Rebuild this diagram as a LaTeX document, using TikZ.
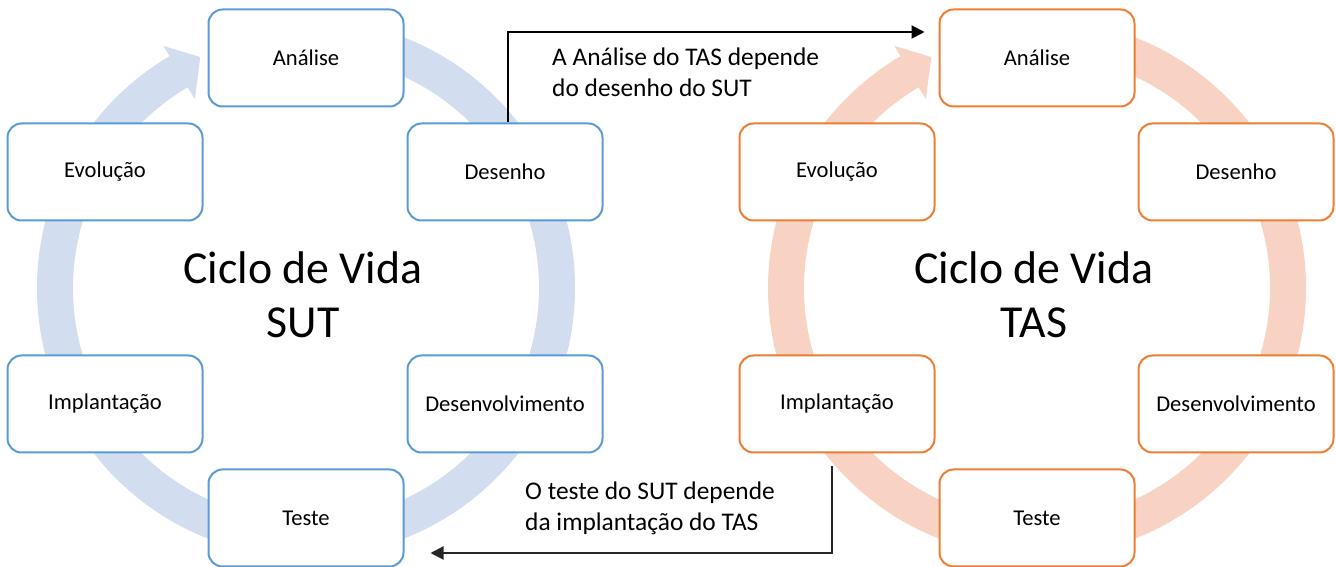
\documentclass[tikz,border=0pt]{standalone}
\usepackage{fontspec}
\setmainfont{Carlito}
\usetikzlibrary{arrows.meta}

\definecolor{sutline}{HTML}{5B9BD5}
\definecolor{sutring}{HTML}{D2DDEF}
\definecolor{tasline}{HTML}{ED7D31}
\definecolor{tasring}{HTML}{F8D3C3}

\tikzset{
  phase/.style={rectangle,rounded corners=14pt,draw,line width=2pt,fill=white,
    minimum width=195pt,minimum height=97pt,inner sep=0pt,
    font=\fontsize{22.6}{27}\selectfont},
  cyclename/.style={align=center,font=\fontsize{45.8}{54}\selectfont},
  note/.style={align=left,inner sep=0pt,font=\fontsize{25.4}{31}\selectfont},
  dep/.style={line width=2pt,-{Triangle[length=13pt,width=13pt]}},
}

% circular band with its arrow head, drawn round (0,0)
\newcommand{\cycleband}[1]{%
  \fill[#1] (85:269pt) arc[start angle=85,end angle=-239.5,radius=269pt]
    -- (120.5:281pt) -- (114.6:254pt) -- (120.5:219pt) -- (120.5:233pt)
    arc[start angle=-239.5,end angle=85,radius=233pt] -- cycle;}

\begin{document}
\begin{tikzpicture}[x=1pt,y=1pt]
  \useasboundingbox (0,0) rectangle (1336,567);

  \begin{scope}[shift={(306,279)}]
    \cycleband{sutring}
  \end{scope}
  \begin{scope}[shift={(1037,279)}]
    \cycleband{tasring}
  \end{scope}

  % SUT
  \begin{scope}[every node/.style={phase,draw=sutline}]
    \node (lAna) at (306,509) {Análise};
    \node (lDes) at (505,395) {Desenho};
    \node (lDev) at (505,163) {Desenvolvimento};
    \node (lTes) at (306,49) {Teste};
    \node (lImp) at (105,163) {Implantação};
    \node (lEvo) at (105,395) {Evolução};
  \end{scope}

  % TAS
  \begin{scope}[every node/.style={phase,draw=tasline}]
    \node (rAna) at (1037,509) {Análise};
    \node (rDes) at (1236,395) {Desenho};
    \node (rDev) at (1236,163) {Desenvolvimento};
    \node (rTes) at (1037,49) {Teste};
    \node (rImp) at (837,163) {Implantação};
    \node (rEvo) at (837,395) {Evolução};
  \end{scope}

  \node[cyclename] (nameSut) at (303,272) {Ciclo de Vida\\SUT};
  \node[cyclename] (nameTas) at (1034,272) {Ciclo de Vida\\TAS};

  \node[note,anchor=west] (noteAna) at (552,495) {A Análise do TAS depende\\do desenho do SUT};
  \node[note,anchor=west] (noteTes) at (525,59) {O teste do SUT depende\\da implantação do TAS};

  \coordinate (toAna) at ([xshift=-14pt,yshift=26pt]rAna.west);
  \coordinate (fromImp) at ([xshift=-5pt,yshift=-13pt]rImp.south);
  \coordinate (toTes) at ([xshift=26pt,yshift=-35pt]lTes.east);
  \draw[dep] ([xshift=3pt]lDes.north) |- (toAna);
  \draw[dep,black!85] (fromImp) |- (toTes);
\end{tikzpicture}
\end{document}
